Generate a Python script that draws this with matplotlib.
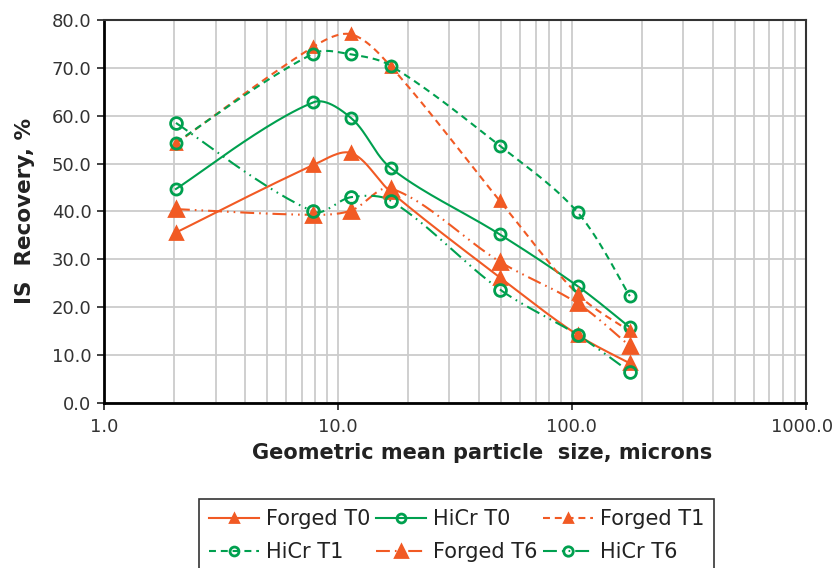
import numpy as np
import matplotlib
matplotlib.use("Agg")
import matplotlib.pyplot as plt
from matplotlib.ticker import LogLocator, FixedLocator, FuncFormatter, NullFormatter
from matplotlib.transforms import ScaledTranslation

plt.rcParams['font.family'] = ['DejaVu Sans']
plt.rcParams['lines.scale_dashes'] = False

# ---- data ----
sizes = [2.03, 7.85, 11.4, 16.9, 49.3, 106.0, 177.0]
forged_t0 = [35.6, 49.7, 52.2, 44.0, 26.2, 14.2, 8.3]
hicr_t0 = [44.7, 62.8, 59.5, 49.0, 35.2, 24.4, 15.8]
forged_t1 = [54.2, 74.4, 77.0, 70.2, 42.2, 22.7, 15.0]
hicr_t1 = [54.4, 73.0, 72.8, 70.4, 53.7, 39.8, 22.3]
forged_t6 = [40.5, 39.3, 40.2, 44.8, 29.5, 20.8, 11.9]
hicr_t6 = [58.5, 40.0, 43.0, 42.2, 23.7, 14.2, 6.5]
labels = ["Forged T0", "HiCr T0", "Forged T1", "HiCr T1", "Forged T6", "HiCr T6"]
x_ticks = [1.0, 10.0, 100.0, 1000.0]
y_ticks = [0, 10, 20, 30, 40, 50, 60, 70, 80]

ORANGE = '#F15A24'
GREEN = '#00A04F'

SX, SY = 233.9, 4.7875  # display scale used only for smoothing shape


def smooth(xs, ys, n=30):
    """Excel-like smoothed line: Bezier segments with length-weighted tangents."""
    P = np.column_stack([np.log10(np.asarray(xs, float)) * SX, np.asarray(ys, float) * SY])
    m = len(P)
    cout, cin = [], []
    for i in range(m):
        if i == 0:
            d = P[1] - P[0]
            cout.append(P[0] + d / 6.0)
            cin.append(P[0])
            continue
        if i == m - 1:
            d = P[i] - P[i - 1]
            cin.append(P[i] - d / 6.0)
            cout.append(P[i])
            continue
        d = P[i + 1] - P[i - 1]
        lp = np.linalg.norm(P[i] - P[i - 1])
        ln = np.linalg.norm(P[i + 1] - P[i])
        cout.append(P[i] + d * ln / (lp + ln) / 3.0)
        cin.append(P[i] - d * lp / (lp + ln) / 3.0)
    out = [P[0]]
    t = np.linspace(0, 1, n)[1:]
    for i in range(m - 1):
        p1, c1, c2, p2 = P[i], cout[i], cin[i + 1], P[i + 1]
        for tt in t:
            out.append(((1 - tt) ** 3) * p1 + 3 * ((1 - tt) ** 2) * tt * c1
                       + 3 * (1 - tt) * tt ** 2 * c2 + tt ** 3 * p2)
    out = np.array(out)
    return 10 ** (out[:, 0] / SX), out[:, 1] / SY


fig = plt.figure(figsize=(8.35, 5.68), dpi=100)
ax = fig.add_axes([104 / 835, 1 - 403 / 568, (805.7 - 104) / 835, (403 - 20) / 568])

DASH = (0, (5, 3.5))
DDOT = (0, (10, 3.6, 1.2, 3.6, 1.2, 3.6))

series = [
    (forged_t0, ORANGE, '-', '^', 8.0, True),
    (hicr_t0, GREEN, '-', 'o', 8.0, False),
    (forged_t1, ORANGE, DASH, '^', 7.0, True),
    (hicr_t1, GREEN, DASH, 'o', 8.0, False),
    (forged_t6, ORANGE, DDOT, '^', 10.0, True),
    (hicr_t6, GREEN, DDOT, 'o', 8.5, False),
]

handles = []
for (vals, col, ls, mk, ms, filled), lab in zip(series, labels):
    sx, sy = smooth(sizes, vals)
    ax.plot(sx, sy, color=col, lw=1.5, ls=ls, zorder=3)
    ax.plot(sizes, vals, ls='none', marker=mk, ms=ms,
            mfc=col if filled else 'none', mec=col, mew=2.0, zorder=4)
    h, = ax.plot([], [], color=col, lw=1.5, ls=ls, marker=mk, ms=ms * 0.8,
                 mfc=col if filled else 'none', mec=col, mew=2.0, label=lab)
    handles.append(h)

ax.set_xscale('log')
ax.set_xlim(1, 1000)
ax.set_ylim(0, 80)
ax.xaxis.set_major_locator(FixedLocator(x_ticks))
ax.xaxis.set_major_formatter(FuncFormatter(lambda v, p: f"{v:.1f}"))
ax.xaxis.set_minor_locator(LogLocator(base=10, subs=np.arange(2, 10)))
ax.xaxis.set_minor_formatter(NullFormatter())
ax.yaxis.set_major_locator(FixedLocator(y_ticks))
ax.yaxis.set_major_formatter(FuncFormatter(lambda v, p: f"{v:.1f}"))

ax.grid(True, which='major', axis='both', color='#CCCCCC', lw=1.3)
ax.grid(True, which='minor', axis='x', color='#CCCCCC', lw=1.3)
ax.set_axisbelow(True)

ax.tick_params(axis='both', which='major', direction='out', length=5, width=1.3,
               labelsize=13, labelcolor='#333333', color='#333333')
ax.tick_params(axis='x', which='minor', length=0)
ax.tick_params(axis='y', pad=4)
ax.tick_params(axis='x', pad=6)

for s in ['left', 'bottom']:
    ax.spines[s].set_linewidth(2.0)
    ax.spines[s].set_color('black')
for s in ['top', 'right']:
    ax.spines[s].set_linewidth(1.5)
    ax.spines[s].set_color('#333333')

ax.set_xlabel("Geometric mean particle  size, microns", fontsize=15, fontweight='bold',
              color='#222222')
ax.xaxis.set_label_coords(0.539, -0.105)
ax.set_ylabel("IS  Recovery, %", fontsize=15.5, fontweight='bold', color='#222222', labelpad=12)

order = [0, 3, 1, 4, 2, 5]
leg = fig.legend([handles[i] for i in order], [labels[i] for i in order], ncol=3,
                 loc='upper left', bbox_to_anchor=(199 / 835, 1 - 499 / 568),
                 fontsize=15, frameon=True, fancybox=False, edgecolor='black',
                 handlelength=2.4, handletextpad=0.3, columnspacing=0.3,
                 labelspacing=0.6, borderpad=0.5, borderaxespad=0)
leg.get_frame().set_linewidth(1.2)
for t in leg.get_texts():
    t.set_color('#222222')

# keep the last x tick label inside the canvas, as in the reference
fig.canvas.draw()
last = ax.xaxis.get_major_ticks()[-1].label1
last.set_transform(last.get_transform() + ScaledTranslation(-4 / 100, 0, fig.dpi_scale_trans))

fig.savefig('out.png', dpi=100)
